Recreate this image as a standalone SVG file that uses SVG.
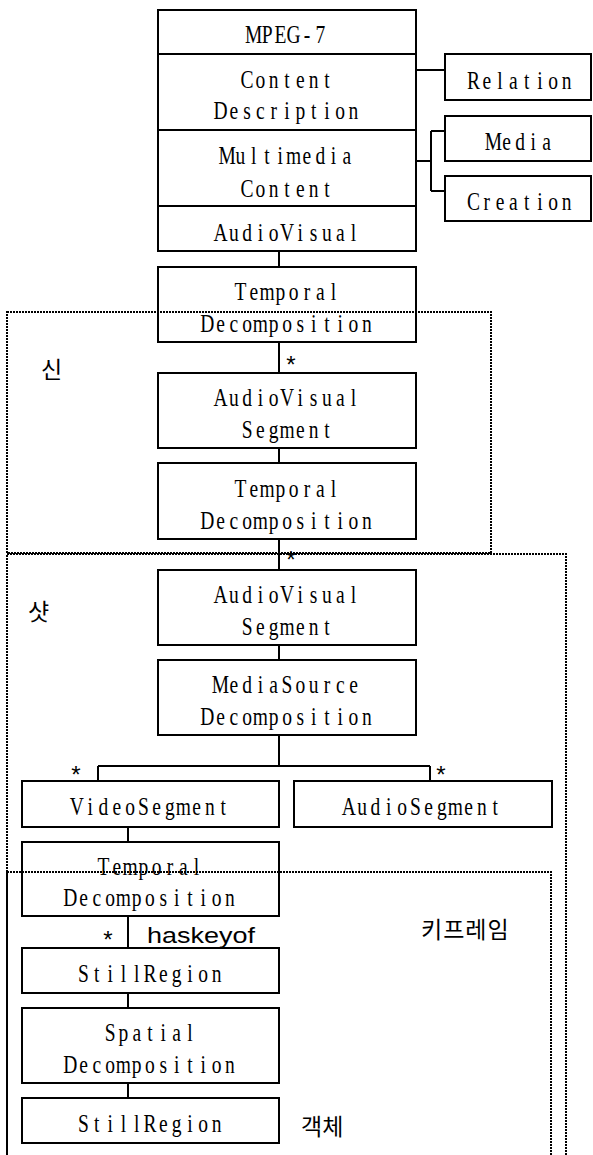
<svg xmlns="http://www.w3.org/2000/svg" width="593" height="1155" viewBox="0 0 593 1155">
<style>
.n{fill:#fff;stroke:#000;stroke-width:2}
.t{font-family:"Liberation Serif","Times New Roman",serif;font-size:25px;fill:#000;text-anchor:middle}
.s{font-family:"Liberation Mono",monospace;font-size:24px;fill:#000;text-anchor:middle}
.k{font-family:"Noto Sans CJK KR","Noto Sans",sans-serif;font-size:23px;fill:#000}
.h{font-family:"Liberation Sans",Arial,sans-serif;font-size:22px;fill:#000}
.c{fill:none;stroke:#000;stroke-width:2}
.d{fill:none;stroke:#000;stroke-width:2;stroke-dasharray:2 1}
</style>
<rect width="593" height="1155" fill="#fff"/>
<g id="connectors">
<path class="c" d="M416 70H445M416 161H431M431 131V191M431 131H445M431 191H445"/>
<path class="c" d="M279 251V267M279 342V373M279 448V463M279 539V570M279 645V660M279 735V766M98 766H430M98 766V781M430 766V781"/>
<path class="c" d="M128 827V842M128 916V948M128 993V1008M128 1083V1098"/>
</g>
<g id="mpeg7"><rect class="n" x="158" y="10" width="258" height="44"/><text class="t" transform="scale(0.78 1)" x="325.3 342.4 359.4 376.5 393.5 410.6" y="43">MPEG-7</text></g>
<g id="contentdescription"><rect class="n" x="158" y="54" width="258" height="76"/><text class="t" transform="scale(0.78 1)" x="316.8 333.9 350.9 368.0 385.0 402.1 419.1" y="88">Content</text><text class="t" transform="scale(0.78 1)" x="282.7 299.8 316.8 333.9 350.9 368.0 385.0 402.1 419.1 436.2 453.2" y="119">Description</text></g>
<g id="multimediacontent"><rect class="n" x="158" y="130" width="258" height="76"/><text class="t" transform="scale(0.78 1)" x="291.2 308.3 325.3 342.4 359.4 376.5 393.5 410.6 427.6 444.7" y="164">Multimedia</text><text class="t" transform="scale(0.78 1)" x="316.8 333.9 350.9 368.0 385.0 402.1 419.1" y="197">Content</text></g>
<g id="audiovisual"><rect class="n" x="158" y="206" width="258" height="45"/><text class="t" transform="scale(0.78 1)" x="282.7 299.8 316.8 333.9 350.9 368.0 385.0 402.1 419.1 436.2 453.2" y="241">AudioVisual</text></g>
<g id="relation"><rect class="n" x="445" y="54" width="146" height="46"/><text class="t" transform="scale(0.78 1)" x="607.0 624.0 641.1 658.1 675.2 692.2 709.3 726.3" y="89">Relation</text></g>
<g id="media"><rect class="n" x="445" y="116" width="146" height="45"/><text class="t" transform="scale(0.78 1)" x="632.6 649.6 666.7 683.7 700.8" y="150">Media</text></g>
<g id="creation"><rect class="n" x="445" y="176" width="146" height="45"/><text class="t" transform="scale(0.78 1)" x="607.0 624.0 641.1 658.1 675.2 692.2 709.3 726.3" y="210">Creation</text></g>
<g id="temporal1"><rect class="n" x="158" y="267" width="258" height="75"/><text class="t" transform="scale(0.78 1)" x="308.3 325.3 342.4 359.4 376.5 393.5 410.6 427.6" y="300">Temporal</text><text class="t" transform="scale(0.78 1)" x="265.7 282.7 299.8 316.8 333.9 350.9 368.0 385.0 402.1 419.1 436.2 453.2 470.3" y="332">Decomposition</text></g>
<g id="avsegment1"><rect class="n" x="158" y="373" width="258" height="75"/><text class="t" transform="scale(0.78 1)" x="282.7 299.8 316.8 333.9 350.9 368.0 385.0 402.1 419.1 436.2 453.2" y="406">AudioVisual</text><text class="t" transform="scale(0.78 1)" x="316.8 333.9 350.9 368.0 385.0 402.1 419.1" y="438">Segment</text></g>
<g id="temporal2"><rect class="n" x="158" y="463" width="258" height="76"/><text class="t" transform="scale(0.78 1)" x="308.3 325.3 342.4 359.4 376.5 393.5 410.6 427.6" y="497">Temporal</text><text class="t" transform="scale(0.78 1)" x="265.7 282.7 299.8 316.8 333.9 350.9 368.0 385.0 402.1 419.1 436.2 453.2 470.3" y="529">Decomposition</text></g>
<g id="avsegment2"><rect class="n" x="158" y="570" width="258" height="75"/><text class="t" transform="scale(0.78 1)" x="282.7 299.8 316.8 333.9 350.9 368.0 385.0 402.1 419.1 436.2 453.2" y="603">AudioVisual</text><text class="t" transform="scale(0.78 1)" x="316.8 333.9 350.9 368.0 385.0 402.1 419.1" y="635">Segment</text></g>
<g id="mediasource"><rect class="n" x="158" y="660" width="258" height="75"/><text class="t" transform="scale(0.78 1)" x="282.7 299.8 316.8 333.9 350.9 368.0 385.0 402.1 419.1 436.2 453.2" y="693">MediaSource</text><text class="t" transform="scale(0.78 1)" x="265.7 282.7 299.8 316.8 333.9 350.9 368.0 385.0 402.1 419.1 436.2 453.2 470.3" y="725">Decomposition</text></g>
<g id="videosegment"><rect class="n" x="22" y="781" width="257" height="46"/><text class="t" transform="scale(0.78 1)" x="98.5 115.6 132.6 149.7 166.7 183.8 200.8 217.9 234.9 252.0 269.0 286.1" y="815">VideoSegment</text></g>
<g id="audiosegment"><rect class="n" x="294" y="781" width="258" height="46"/><text class="t" transform="scale(0.78 1)" x="447.3 464.3 481.4 498.4 515.5 532.5 549.6 566.6 583.7 600.7 617.8 634.8" y="815">AudioSegment</text></g>
<g id="temporal3"><rect class="n" x="22" y="842" width="257" height="74"/><text class="t" transform="scale(0.78 1)" x="132.6 149.7 166.7 183.8 200.8 217.9 234.9 252.0" y="875">Temporal</text><text class="t" transform="scale(0.78 1)" x="90.0 107.1 124.1 141.2 158.2 175.3 192.3 209.4 226.4 243.5 260.5 277.6 294.6" y="906">Decomposition</text></g>
<g id="stillregion1"><rect class="n" x="22" y="948" width="257" height="45"/><text class="t" transform="scale(0.78 1)" x="107.1 124.1 141.2 158.2 175.3 192.3 209.4 226.4 243.5 260.5 277.6" y="982">StillRegion</text></g>
<g id="spatial"><rect class="n" x="22" y="1008" width="257" height="75"/><text class="t" transform="scale(0.78 1)" x="141.2 158.2 175.3 192.3 209.4 226.4 243.5" y="1041">Spatial</text><text class="t" transform="scale(0.78 1)" x="90.0 107.1 124.1 141.2 158.2 175.3 192.3 209.4 226.4 243.5 260.5 277.6 294.6" y="1073">Decomposition</text></g>
<g id="stillregion2"><rect class="n" x="22" y="1098" width="257" height="45"/><text class="t" transform="scale(0.78 1)" x="107.1 124.1 141.2 158.2 175.3 192.3 209.4 226.4 243.5 260.5 277.6" y="1132">StillRegion</text></g>
<g id="labels">
<text class="s" x="291" y="374">*</text>
<text class="s" x="291" y="569">*</text>
<text class="s" x="76" y="784">*</text>
<text class="s" x="441" y="784">*</text>
<text class="s" x="108" y="949">*</text>
<text class="h" x="147" y="943" textLength="108" lengthAdjust="spacingAndGlyphs">haskeyof</text>
<text class="k" x="41" y="378">신</text>
<text class="k" x="28" y="620">샷</text>
<text class="k" x="421" y="938" letter-spacing="1">키프레임</text>
<text class="k" x="301" y="1135">객체</text>
</g>
<g id="regions">
<rect class="d" x="7" y="312" width="484" height="241"/>
<rect class="d" x="7" y="554" width="559" height="620"/>
<rect class="d" x="7" y="872" width="544" height="300"/>
</g>
</svg>
